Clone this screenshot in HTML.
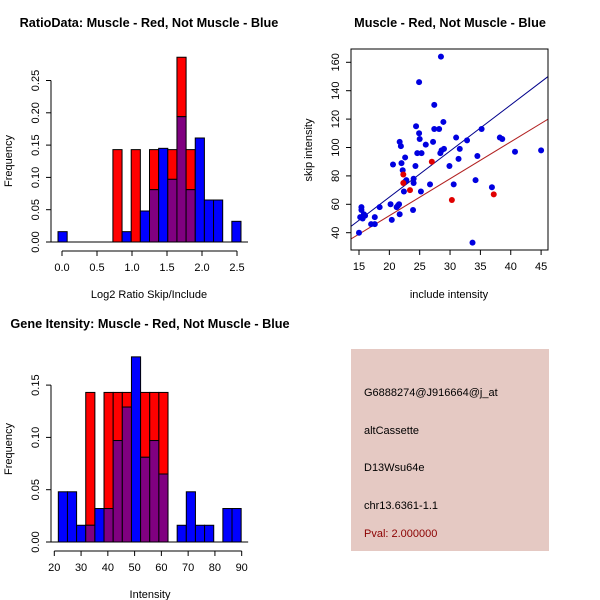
<!DOCTYPE html>
<html><head><meta charset="utf-8"><style>
body{margin:0;background:#fff}
svg{display:block;font-family:"Liberation Sans",sans-serif}
</style></head><body>
<svg id="c" width="600" height="600" viewBox="0 0 600 600" xmlns="http://www.w3.org/2000/svg">
<rect width="600" height="600" fill="#fff"/>
<text x="149" y="27" text-anchor="middle" font-size="12.7" font-weight="bold">RatioData: Muscle - Red, Not Muscle - Blue</text>
<text x="450" y="27" text-anchor="middle" font-size="12.7" font-weight="bold">Muscle - Red, Not Muscle - Blue</text>
<text x="150" y="328" text-anchor="middle" font-size="12.7" font-weight="bold">Gene Itensity: Muscle - Red, Not Muscle - Blue</text>
<text x="149" y="298" text-anchor="middle" font-size="11">Log2 Ratio Skip/Include</text>
<text x="12" y="161" text-anchor="middle" font-size="11" transform="rotate(-90 12 161)">Frequency</text>
<text x="449" y="298" text-anchor="middle" font-size="11">include intensity</text>
<text x="312" y="150" text-anchor="middle" font-size="11" transform="rotate(-90 312 150)">skip intensity</text>
<text x="150" y="598" text-anchor="middle" font-size="11">Intensity</text>
<text x="12" y="449" text-anchor="middle" font-size="11" transform="rotate(-90 12 449)">Frequency</text>
<g>
<rect x="351" y="349" width="198" height="202" fill="#e5c9c3"/>
<text x="364" y="396" font-size="11">G6888274@J916664@j_at</text>
<text x="364" y="434" font-size="11">altCassette</text>
<text x="364" y="471" font-size="11">D13Wsu64e</text>
<text x="364" y="509" font-size="11">chr13.6361-1.1</text>
<text x="364" y="537" font-size="11" fill="#8b0000">Pval: 2.000000</text>
</g>
<g id="g1"></g><g id="g2"></g><g id="g3"></g>
</svg>
<script>
// Ratio histogram data (20 bins)
const ratioRed =  [0,0,0,0,0,0,0.143,0,0.143,0,0.143,0,0.143,0.286,0.143,0,0,0,0,0];
const ratioBlue = [0.016,0,0,0,0,0,0,0.016,0,0.048,0.081,0.145,0.097,0.194,0.081,0.161,0.065,0.065,0,0.032];
const ratioXTicks = [0,0.5,1.0,1.5,2.0,2.5];
const ratioXLabels = ["0.0","0.5","1.0","1.5","2.0","2.5"];
const ratioYTicks = [0,0.05,0.10,0.15,0.20,0.25];
const ratioYLabels = ["0.00","0.05","0.10","0.15","0.20","0.25"];
// Intensity histogram data (20 bins)
const intRed =  [0,0,0,0.143,0,0.143,0.143,0.143,0,0.143,0.143,0.143,0,0,0,0,0,0,0,0];
const intBlue = [0.048,0.048,0.016,0.016,0.032,0.032,0.097,0.129,0.177,0.081,0.097,0.065,0,0.016,0.048,0.016,0.016,0,0.032,0.032];
const intXTicks = [20,30,40,50,60,70,80,90];
const intYTicks = [0,0.05,0.10,0.15];
const intYLabels = ["0.00","0.05","0.10","0.15"];
// Scatter data
const blueInclude = [15,15.2,15.4,15.4,15.6,15.8,16,17,17.6,17.6,18.4,20.2,20.4,20.6,21.2,21.4,21.6,21.7,21.7,21.9,22,22.2,22.4,22.6,22.8,22.6,23.9,24,24,24.3,24.4,24.6,24.9,24.9,25,25.2,25.3,26,26.7,27.2,27.4,27.4,28.2,28.4,28.6,28.5,28.9,29,29.9,30.6,31,31.4,31.6,32.8,33.7,34.2,34.5,35.2,36.9,38.2,38.6,40.7,45];
const blueSkip = [40,51,56,58,50,53,52,46,46,51,58,60,49,88,58,59,60,53,104,101,89,84,69,93,77,76,56,78,75,87,115,96,146,110,106,69,96,102,74,104,130,113,113,96,98,164,118,99,87,74,107,92,99,105,33,77,94,113,72,107,106,97,98];
const redInclude = [22.3,22.3,23.4,27,30.3,37.2];
const redSkip = [81,75,70,90,63,67];
const blueSlope = 3.25;
const redSlope = 2.6;
const scXTicks = [15,20,25,30,35,40,45];
const scYTicks = [40,60,80,100,120,140,160];

const NS="http://www.w3.org/2000/svg";
function mk(parent,tag,attrs){const e=document.createElementNS(NS,tag);for(const k in attrs)e.setAttribute(k,attrs[k]);parent.appendChild(e);return e;}

function hist(g,red,blue,x0,bw,sx,sy,xt,xl,yt,yl,axY,axX,xTickY){
  const n=red.length;
  for(let i=0;i<n;i++){
    const l=sx(x0+i*bw), r=sx(x0+(i+1)*bw), w=r-l;
    const rv=red[i], bv=blue[i], mn=Math.min(rv,bv), mx=Math.max(rv,bv);
    if(mx<=0) continue;
    const top=mk(g,'rect',{x:l,y:sy(mx),width:w,height:sy(mn)-sy(mx),fill:rv>bv?'#ff0000':'#0000ff',stroke:'#000','stroke-width':1});
    
    
    if(mn>0){
      const ov=mk(g,'rect',{x:l,y:sy(mn),width:w,height:sy(0)-sy(mn),fill:'#800080',stroke:'#000','stroke-width':1});
      
      
    }
  }
  mk(g,'line',{x1:sx(x0)-10,x2:sx(x0+n*bw)+7,y1:sy(0),y2:sy(0),stroke:'#000'});
  const xa=mk(g,'g',{});
  
  
  mk(xa,'line',{x1:sx(xt[0]),x2:sx(xt[xt.length-1]),y1:xTickY,y2:xTickY,stroke:'#000'});
  xt.forEach((v,i)=>{mk(xa,'line',{x1:sx(v),x2:sx(v),y1:xTickY,y2:xTickY+5,stroke:'#000'});
    const t=mk(xa,'text',{x:sx(v),y:xTickY+20,'text-anchor':'middle','font-size':11});t.textContent=xl[i];
    
    });
  const ya=mk(g,'g',{});
  
  
  mk(ya,'line',{x1:axX,x2:axX,y1:sy(yt[0]),y2:sy(yt[yt.length-1]),stroke:'#000'});
  yt.forEach((v,i)=>{mk(ya,'line',{x1:axX,x2:axX-5,y1:sy(v),y2:sy(v),stroke:'#000'});
    const tx=axX-12;
    const t=mk(ya,'text',{x:tx,y:sy(v),'text-anchor':'middle','font-size':11,transform:`rotate(-90 ${tx} ${sy(v)})`});t.textContent=yl[i];
    
    });
}
// Top-left
const g1=document.getElementById('g1');


const sx1=v=>62+(v)*70, sy1=v=>242-v*646;
hist(g1,ratioRed,ratioBlue,-0.057,0.1307,sx1,sy1,ratioXTicks,ratioXLabels,ratioYTicks,ratioYLabels,0,51,251);
// Bottom-left
const g3=document.getElementById('g3');


const sx3=v=>54.3+(v-20)*2.677, sy3=v=>542-v*1046;
hist(g3,intRed,intBlue,21.5,3.415,sx3,sy3,intXTicks,intXTicks.map(String),intYTicks,intYLabels,0,51,551);
// Scatter
const g2=document.getElementById('g2');


const sx2=v=>359+(v-15)*6.07, sy2=v=>232.7-(v-40)*1.42;
const L=351,R=548,T=49,B=250;
const cp=mk(g2,'clipPath',{id:'cp'});mk(cp,'rect',{x:L,y:T,width:R-L,height:B-T});
const xmin=(L-359)/6.07+15, xmax=(R-359)/6.07+15;
const bl=mk(g2,'line',{x1:sx2(xmin),y1:sy2(blueSlope*xmin),x2:sx2(xmax),y2:sy2(blueSlope*xmax),stroke:'#00008b','clip-path':'url(#cp)'});


const rl=mk(g2,'line',{x1:sx2(xmin),y1:sy2(redSlope*xmin),x2:sx2(xmax),y2:sy2(redSlope*xmax),stroke:'#b22222','clip-path':'url(#cp)'});


blueInclude.forEach((v,i)=>{const c=mk(g2,'circle',{cx:sx2(v),cy:sy2(blueSkip[i]),r:3,fill:'#0000e0'});
  
  });
redInclude.forEach((v,i)=>{const c=mk(g2,'circle',{cx:sx2(v),cy:sy2(redSkip[i]),r:3,fill:'#e00000'});
  
  });
const bx=mk(g2,'rect',{x:L,y:T,width:R-L,height:B-T,fill:'none',stroke:'#000'});


scXTicks.forEach(v=>{mk(g2,'line',{x1:sx2(v),x2:sx2(v),y1:B,y2:B+5,stroke:'#000'});
  const t=mk(g2,'text',{x:sx2(v),y:B+20,'text-anchor':'middle','font-size':11});t.textContent=v;
  
  });
scYTicks.forEach(v=>{mk(g2,'line',{x1:L,x2:L-5,y1:sy2(v),y2:sy2(v),stroke:'#000'});
  const tx=L-12;
  const t=mk(g2,'text',{x:tx,y:sy2(v),'text-anchor':'middle','font-size':11,transform:`rotate(-90 ${tx} ${sy2(v)})`});t.textContent=v;
  
  });
</script>
</body></html>
